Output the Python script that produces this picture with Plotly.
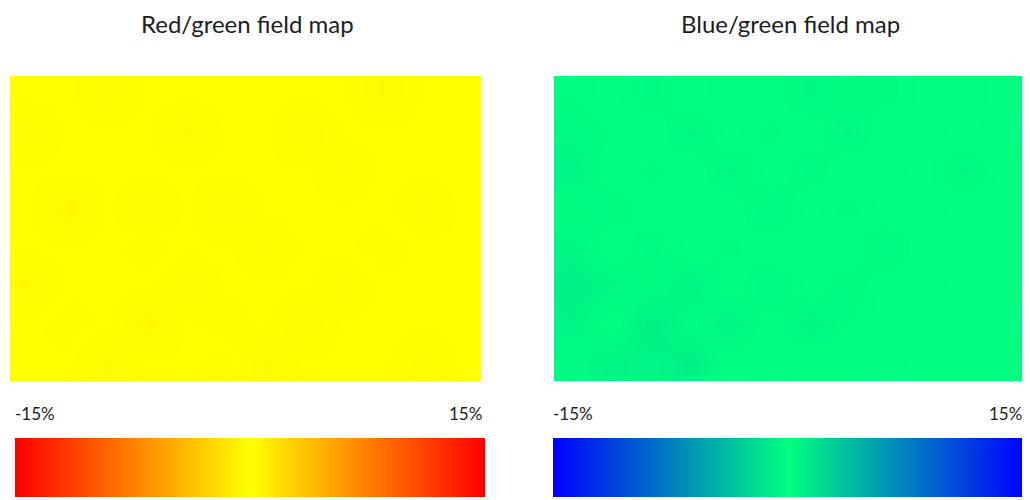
import plotly.graph_objects as go

# page body has an 8px margin, so the figure is drawn 8px in from the window
OFF = 8
W, H = 1030 - OFF, 500 - OFF

# ---- data -------------------------------------------------------------
titles = ["Red/green field map", "Blue/green field map"]
scale_min, scale_max = -15, 15
scale_labels = ["-15%", "15%"]

# field deviation (%) – nearly flat around 0
red_green_field = [
    [0.0, 0.0, -0.3, 0.0, 0.0, 0.1, -0.3, 0.0, 0.0, 0.0, -0.2, 0.0],
    [0.0, 0.1, 0.0, -0.4, 0.0, -0.1, 0.0, -0.3, 0.0, 0.0, 0.0, 0.0],
    [-0.3, 0.0, 0.0, 0.0, -0.3, 0.0, 0.0, 0.0, -0.2, 0.0, 0.0, 0.0],
    [0.0, 0.0, 0.0, 0.1, 0.0, 0.0, -0.2, 0.0, 0.0, 0.1, 0.0, 0.0],
    [0.0, -0.4, 0.0, -0.3, 0.0, -0.3, 0.0, 0.0, 0.0, 0.0, -0.2, 0.0],
    [0.0, 0.0, 0.0, 0.0, 0.0, 0.0, 0.0, 0.0, -0.2, 0.0, 0.0, 0.0],
    [-0.2, 0.0, 0.0, 0.0, -0.3, 0.0, 0.0, -0.3, 0.0, 0.0, 0.0, 0.0],
    [0.0, 0.0, -0.2, 0.0, 0.0, 0.0, 0.0, 0.0, 0.0, -0.3, 0.0, 0.0],
]

blue_green_field = [
    [-0.3, -0.7, -0.5, -0.8, 0.0, -0.2, 0.0, 0.0, -0.2, 0.0, 0.0, 0.0],
    [-0.6, 0.0, -0.9, -0.2, -0.7, 0.0, -0.6, -0.2, 0.0, 0.0, 0.0, -0.2],
    [-0.8, -0.5, -0.2, -0.7, 0.0, -0.5, 0.0, -0.4, 0.0, -0.2, 0.0, 0.0],
    [-0.5, 0.0, -0.4, 0.0, -0.3, 0.0, -0.2, 0.0, -0.5, 0.0, -0.2, 0.0],
    [-0.2, -0.4, 0.0, -0.2, 0.0, -0.5, 0.0, -0.3, 0.0, -0.2, 0.0, 0.0],
    [-0.6, 0.0, -0.3, 0.0, -0.5, 0.0, -0.4, 0.0, -0.2, 0.0, -0.5, 0.0],
    [-0.4, -0.2, 0.0, -0.5, 0.0, -0.3, 0.0, -0.5, 0.0, -0.2, 0.0, -0.2],
    [-0.2, 0.0, -0.4, 0.0, -0.2, 0.0, -0.5, -0.2, -0.3, 0.0, -0.2, 0.0],
]

red_green_scale = [[0.0, "#ff0000"], [0.5, "#ffff00"], [1.0, "#ff0000"]]
blue_green_scale = [[0.0, "#0000ff"], [0.5, "#00ff80"], [1.0, "#0000ff"]]

# ---- layout helpers (window pixel -> paper) ---------------------------
def px(x):
    return (x - OFF) / W

def py(y):
    return 1 - (y - OFF) / H

panels = [
    dict(z=red_green_field, cs=red_green_scale, x0=10, x1=481, cb0=15, cb1=485),
    dict(z=blue_green_field, cs=blue_green_scale, x0=554, x1=1023, cb0=553, cb1=1025),
]
map_top, map_bottom = 76, 381
cb_top, cb_thick = 437.5, 59

fig = go.Figure()
annotations = []
for i, p in enumerate(panels):
    ax = "" if i == 0 else str(i + 1)
    fig.add_trace(go.Heatmap(
        z=p["z"],
        zmin=scale_min, zmax=scale_max,
        colorscale=p["cs"],
        zsmooth="best",
        xaxis="x" + ax, yaxis="y" + ax,
        hoverinfo="skip",
        colorbar=dict(
            orientation="h",
            lenmode="pixels", len=p["cb1"] - p["cb0"],
            thickness=cb_thick, thicknessmode="pixels",
            x=px((p["cb0"] + p["cb1"]) / 2), xanchor="center",
            y=py(cb_top), yanchor="top",
            xpad=0, ypad=0,
            outlinewidth=0,
            showticklabels=False, ticks="",
        ),
    ))
    fig.update_layout(**{
        "xaxis" + ax: dict(domain=[px(p["x0"]), px(p["x1"])], visible=False,
                           anchor="y" + ax),
        "yaxis" + ax: dict(domain=[py(map_bottom), py(map_top)], visible=False,
                           anchor="x" + ax),
    })
    annotations.append(dict(
        text=titles[i], x=px((p["x0"] + p["x1"]) / 2 + 2), y=1.0,
        xref="paper", yref="paper", xanchor="center", yanchor="top",
        borderpad=0,
        showarrow=False, font=dict(family="Lato", size=24, color="#1e1e1e"),
    ))
    annotations.append(dict(
        text=scale_labels[0], x=px(p["cb0"] - 2), y=py(426),
        xref="paper", yref="paper", xanchor="left", yanchor="bottom",
        showarrow=False, font=dict(family="Lato", size=17, color="#1e1e1e"),
    ))
    annotations.append(dict(
        text=scale_labels[1], x=px(p["cb1"] - 1), y=py(426),
        xref="paper", yref="paper", xanchor="right", yanchor="bottom",
        showarrow=False, font=dict(family="Lato", size=17, color="#1e1e1e"),
    ))

fig.update_layout(
    width=W, height=H,
    margin=dict(l=0, r=0, t=0, b=0, pad=0, autoexpand=False),
    paper_bgcolor="white", plot_bgcolor="white",
    showlegend=False,
    annotations=annotations,
)

fig.write_html("out.html")
